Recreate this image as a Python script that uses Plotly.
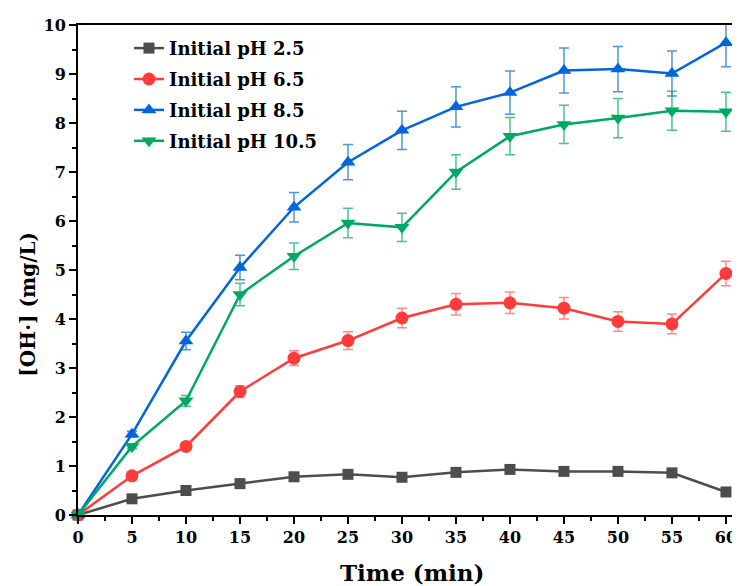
import plotly.graph_objects as go

time_min = [0, 5, 10, 15, 20, 25, 30, 35, 40, 45, 50, 55, 60]

ph25 = [0, 0.33, 0.50, 0.64, 0.78, 0.83, 0.77, 0.87, 0.93, 0.89, 0.89, 0.86, 0.47]
ph25_err = [0, 0.03, 0.03, 0.04, 0.05, 0.06, 0.05, 0.07, 0.08, 0.08, 0.07, 0.07, 0.03]

ph65 = [0, 0.80, 1.40, 2.52, 3.20, 3.56, 4.02, 4.30, 4.33, 4.22, 3.95, 3.90, 4.93]
ph65_err = [0, 0.03, 0.05, 0.12, 0.15, 0.18, 0.20, 0.22, 0.22, 0.22, 0.20, 0.20, 0.25]

ph85 = [0, 1.65, 3.55, 5.05, 6.28, 7.20, 7.85, 8.33, 8.62, 9.07, 9.10, 9.01, 9.64]
ph85_err = [0, 0.06, 0.18, 0.25, 0.30, 0.36, 0.39, 0.41, 0.44, 0.46, 0.46, 0.46, 0.49]

ph105 = [0, 1.40, 2.33, 4.50, 5.28, 5.96, 5.87, 7.00, 7.73, 7.97, 8.10, 8.25, 8.23]
ph105_err = [0, 0.05, 0.11, 0.23, 0.27, 0.30, 0.29, 0.35, 0.38, 0.39, 0.40, 0.40, 0.40]

names = ["Initial pH 2.5", "Initial pH 6.5", "Initial pH 8.5", "Initial pH 10.5"]
colors = ["#4d4d4d", "#ff3b3b", "#0066dd", "#00a862"]
err_colors = ["rgba(77,77,77,0.75)", "rgba(255,59,59,0.6)", "rgba(0,102,221,0.7)", "rgba(0,168,98,0.7)"]
symbols = ["square", "circle", "triangle-up", "triangle-down"]
sizes = [11, 13, 13, 13]

series = [(ph25, ph25_err), (ph65, ph65_err), (ph85, ph85_err), (ph105, ph105_err)]

font_family = "DejaVu Serif"

fig = go.Figure()
for i, ((vals, errs), name, c, ec, sym, sz) in enumerate(zip(series, names, colors, err_colors, symbols, sizes)):
    fig.add_trace(go.Scatter(
        x=time_min, y=vals, name=name, mode="lines+markers",
        legendgroup="g%d" % i,
        line=dict(color=c, width=2.5),
        marker=dict(symbol=sym, size=sz, color=c),
        error_y=dict(type="data", array=errs, visible=True, color=ec, thickness=1.5, width=5),
        cliponaxis=False,
    ))

axis_font = dict(family=font_family, size=16, color="black", weight="bold")

fig.update_layout(
    width=740, height=586,
    margin=dict(l=70, r=8, t=15, b=79),
    plot_bgcolor="white", paper_bgcolor="white",
    showlegend=True,
    legend=dict(
        x=0.077, y=0.99, xanchor="left", yanchor="top",
        bgcolor="rgba(0,0,0,0)", borderwidth=0,
        font=dict(family=font_family, size=18, color="black", weight="bold"),
        tracegroupgap=4.5,
    ),
    xaxis=dict(
        range=[0, 61.3], tickmode="array", tickvals=list(range(0, 61, 5)),
        ticks="outside", ticklen=7, tickwidth=2, tickcolor="black",
        showline=True, linecolor="black", linewidth=2, mirror=True,
        showgrid=False, zeroline=False, tickfont=axis_font,
        minor=dict(dtick=2.5, ticks="outside", ticklen=4, tickwidth=1.5, tickcolor="black"),
    ),
    yaxis=dict(
        range=[0, 10], tickmode="array", tickvals=list(range(0, 11)),
        ticks="outside", ticklen=7, tickwidth=2, tickcolor="black",
        showline=True, linecolor="black", linewidth=2,
        showgrid=False, zeroline=False, tickfont=axis_font,
        minor=dict(dtick=0.5, ticks="outside", ticklen=4, tickwidth=1.5, tickcolor="black"),
    ),
    annotations=[
        dict(text="Time (min)", xref="paper", yref="paper", x=0.505, y=-0.117,
             xanchor="center", yanchor="middle", showarrow=False,
             font=dict(family=font_family, size=23, color="black", weight="bold")),
        dict(text="[OH·] (mg/L)", xref="paper", yref="paper", x=-0.075, y=0.43,
             xanchor="center", yanchor="middle", showarrow=False, textangle=-90,
             font=dict(family=font_family, size=20, color="black", weight="bold")),
    ],
)

fig.write_html("out.html")
